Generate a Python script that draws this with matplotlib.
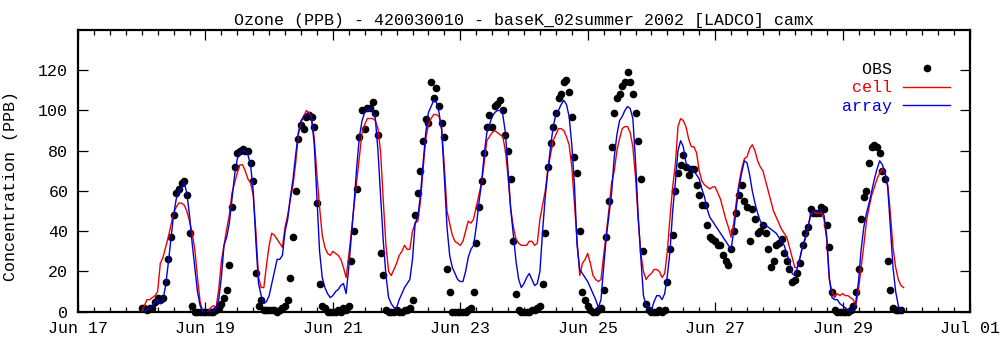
import numpy as np
import matplotlib
matplotlib.use('Agg')
import matplotlib.pyplot as plt
import matplotlib.dates as mdates
from datetime import datetime, timedelta

# hourly ozone (ppb) starting 2002-06-18 00:00
start = datetime(2002, 6, 18, 0)

obs = [
    2, 2, 1, 2, 2, 5, 7, 6, 7, 15, 26, 37, 48, 59, 61, 64, 65, 58, 39, 3, 0, 0, 0, 0,
    0, 0, 0, 0, 1, 2, 4, 7, 11, 23, 52, 72, 79, 80, 81, 80, 80, 74, 65, 19, 3, 6, 1, 1,
    1, 1, 1, 0, 1, 2, 3, 6, 17, 37, 60, 86, 93, 91, 97, 98, 97, 92, 54, 14, 3, 2, 0, 0,
    0, 0, 1, 0, 2, 1, 3, 25, 40, 61, 87, 100, 91, 101, 101, 104, 99, 88, 29, 18, 1, 0, 0, 0,
    1, 0, 0, 1, 1, 2, 6, 48, 59, 70, 85, 96, 94, 114, 106, 111, 102, 94, 87, 21, 10, 0, 0, 0,
    0, 0, 0, 1, 2, 10, 34, 52, 65, 79, 92, 98, 92, 102, 103, 105, 100, 88, 80, 66, 35, 9, 1, 0,
    0, 0, 0, 1, 1, 2, 3, 14, 39, 72, 84, 92, 99, 106, 108, 114, 115, 109, 97, 77, 69, 40, 10, 6,
    3, 1, 0, 0, 1, 2, 11, 37, 55, 82, 99, 106, 108, 112, 114, 119, 114, 108, 99, 85, 66, 30, 4, 1,
    0, 0, 0, 1, 0, 1, 15, 31, 38, 60, 69, 73, 78, 72, 68, 71, 71, 63, 58, 53, 53, 43, 37, 36,
    35, 33, 33, 28, 25, 23, 31, 40, 49, 58, 63, 55, 52, 35, 51, 46, 39, 40, 43, 39, 31, 22, 25, 33,
    34, 36, 29, 25, 21, 15, 16, 19, 24, 33, 39, 42, 51, 49, 49, 49, 52, 51, 43, 32, 10, 1, 0, 0,
    0, 0, 0, 1, 3, 10, 21, 46, 57, 60, 74, 82, 83, 82, 79, 70, 66, 25, 11, 2, 1, 1, 1,
]

cell = [
    0, 3, 6, 6, 7, 8, 10, 24, 27, 32, 37, 43, 49, 52, 54, 54, 53, 50, 45, 39, 31, 17, 5, 0,
    0, 0, 2, 3, 2, 11, 25, 33, 41, 48, 59, 64, 69, 73, 73, 70, 66, 64, 58, 40, 17, 12, 12, 23,
    33, 39, 38, 36, 34, 32, 42, 48, 56, 63, 74, 88, 94, 97, 100, 99, 96, 86, 68, 52, 38, 32, 29, 28,
    30, 29, 28, 26, 22, 17, 28, 40, 53, 65, 77, 89, 93, 96, 96, 96, 95, 91, 79, 55, 33, 20, 18, 21,
    24, 28, 30, 33, 31, 31, 40, 44, 45, 55, 71, 86, 93, 96, 98, 98, 97, 91, 72, 50, 44, 38, 35, 34,
    33, 35, 40, 45, 44, 46, 52, 58, 64, 74, 85, 87, 89, 90, 89, 88, 87, 80, 67, 51, 42, 36, 34, 33,
    33, 33, 35, 35, 33, 34, 46, 53, 60, 71, 78, 85, 88, 91, 91, 90, 87, 83, 72, 54, 35, 18, 24, 26,
    29, 24, 18, 16, 15, 16, 28, 39, 51, 64, 70, 80, 86, 91, 92, 92, 89, 82, 67, 46, 29, 20, 16, 18,
    19, 21, 21, 20, 17, 19, 30, 47, 62, 73, 92, 96, 95, 92, 86, 82, 82, 79, 70, 65, 63, 62, 61, 62,
    62, 59, 56, 51, 46, 42, 37, 44, 55, 64, 71, 76, 77, 81, 83, 80, 75, 72, 70, 65, 60, 55, 50, 47,
    44, 41, 39, 37, 32, 27, 22, 22, 27, 33, 36, 42, 48, 50, 49, 49, 49, 46, 36, 16, 10, 7, 9, 8,
    9, 8, 8, 7, 6, 3, 11, 22, 33, 45, 52, 58, 62, 66, 69, 71, 69, 63, 49, 32, 22, 16, 13, 12,
]

array = [
    0, 0, 1, 2, 3, 5, 6, 4, 6, 13, 24, 36, 48, 56, 60, 62, 64, 59, 48, 34, 22, 10, 3, 0,
    0, 0, 0, 0, 2, 6, 17, 33, 37, 44, 56, 68, 76, 79, 80, 80, 78, 73, 60, 35, 14, 8, 4, 5,
    8, 14, 20, 26, 26, 28, 40, 46, 57, 66, 78, 89, 95, 97, 98, 98, 96, 83, 56, 30, 17, 12, 9, 7,
    8, 10, 11, 13, 14, 9, 22, 38, 54, 72, 87, 95, 99, 100, 101, 100, 96, 80, 57, 35, 18, 7, 4, 2,
    2, 6, 9, 12, 14, 16, 26, 44, 47, 58, 74, 89, 99, 102, 105, 104, 99, 90, 67, 42, 28, 22, 19, 16,
    15, 15, 20, 27, 31, 33, 42, 54, 64, 78, 89, 93, 97, 99, 100, 100, 98, 89, 70, 51, 38, 25, 16, 12,
    14, 17, 19, 16, 13, 14, 20, 40, 57, 70, 82, 92, 98, 100, 103, 105, 103, 97, 83, 63, 33, 21, 19, 17,
    15, 12, 9, 6, 2, 6, 22, 37, 48, 59, 77, 88, 95, 97, 100, 102, 101, 96, 75, 48, 27, 8, 3, 2,
    1, 5, 8, 8, 6, 9, 18, 30, 50, 64, 80, 85, 82, 74, 72, 71, 70, 68, 66, 61, 57, 51, 47, 45,
    43, 41, 39, 37, 35, 33, 31, 40, 52, 62, 69, 75, 74, 68, 60, 54, 49, 45, 43, 43, 42, 41, 40, 39,
    37, 35, 33, 29, 25, 19, 18, 22, 27, 33, 37, 42, 49, 50, 50, 50, 50, 48, 38, 17, 7, 6, 6, 4,
    3, 2, 1, 0, 1, 5, 15, 31, 42, 49, 54, 60, 66, 71, 75, 73, 69, 62, 42, 22, 10, 3, 0,
]

yticks = [0, 20, 40, 60, 80, 100, 120]
title = 'Ozone (PPB) - 420030010 - baseK_02summer 2002 [LADCO] camx'


def hours(vals):
    return [start + timedelta(hours=h) for h in range(len(vals))]


plt.rcParams['font.family'] = ['Liberation Mono', 'DejaVu Sans Mono']
plt.rcParams['font.size'] = 12

fig = plt.figure(figsize=(10, 3.47), dpi=100)
ax = fig.add_axes([0.078, 0.1017, 0.892, 0.8118])

ax.plot(hours(obs), obs, 'o', color='black', markersize=4.5, label='  OBS',
        clip_on=False, zorder=3)
ax.plot(hours(cell), cell, '-', color='#ee0000', lw=1.0, label=' cell', zorder=4)
ax.plot(hours(array), array, '-', color='#0000dd', lw=1.0, label='array', zorder=5)

ax.set_xlim(datetime(2002, 6, 17), datetime(2002, 7, 1))
ax.set_ylim(0, 140)
ax.set_yticks(yticks)

ax.xaxis.set_major_locator(mdates.DayLocator(bymonthday=[1, 17, 19, 21, 23, 25, 27, 29]))
ax.xaxis.set_minor_locator(mdates.HourLocator(byhour=[0, 6, 12, 18]))
ax.xaxis.set_major_formatter(mdates.DateFormatter('%b %d'))

ax.tick_params(which='both', direction='in', top=True, right=True, width=0.9, colors='black')
ax.tick_params(which='major', length=7.5)
ax.tick_params(which='minor', length=3.6)
ax.tick_params(axis='y', pad=7)
ax.tick_params(axis='x', pad=7)
for s in ax.spines.values():
    s.set_linewidth(1.6)

ax.set_ylabel('Concentration (PPB)')
ax.yaxis.set_label_coords(-0.067, 0.446)

ax.text(0.5, 1.0355, title, transform=ax.transAxes, ha='center', va='center')

ax.legend(loc='upper right', bbox_to_anchor=(0.9776, 0.886), frameon=False,
          markerfirst=False, numpoints=1, handlelength=2.82, handletextpad=0.66,
          labelspacing=0.2, borderpad=0, borderaxespad=0,
          labelcolor=['black', '#ee0000', '#0000dd'])

fig.savefig('out.png', dpi=100)
